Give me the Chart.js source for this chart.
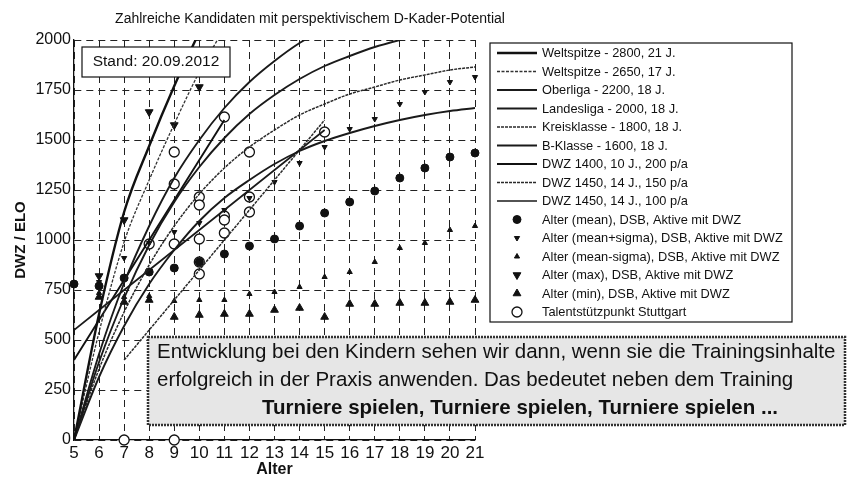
<!DOCTYPE html>
<html lang="de">
<head>
<meta charset="UTF-8">
<title>D-Kader-Potential</title>
<script src="https://cdn.jsdelivr.net/npm/chart.js"></script>
<style>
  html, body { margin: 0; padding: 0; background: #fff; }
</style>
</head>
<body>
<canvas id="dwzChart" width="848" height="479"></canvas>
<script>
// ages on the x axis
const ages = [5, 6, 7, 8, 9, 10, 11, 12, 13, 14, 15, 16, 17, 18, 19, 20, 21];

// model curves, one value per age (null = not drawn)
const weltspitze2800 = [0, 630, 1140, 1470, 1770, 2040, null, null, null, null, null, null, null, null, null, null, null];
const weltspitze2650 = [0, 540, 990, 1300, 1580, 1840, 2060, null, null, null, null, null, null, null, null, null, null];
const oberliga      = [0, 430, 785, 1070, 1310, 1500, 1660, 1790, 1895, 1985, 2055, null, null, null, null, null, null];
const landesliga    = [0, 390, 710, 975, 1190, 1365, 1510, 1630, 1725, 1805, 1870, 1920, 1965, 2000, 2030, 2050, 2070];
const kreisklasse   = [0, 355, 640, 875, 1070, 1230, 1360, 1465, 1550, 1625, 1680, 1730, 1765, 1800, 1825, 1850, 1865];
const bKlasse       = [0, 315, 570, 780, 950, 1095, 1210, 1300, 1380, 1445, 1495, 1535, 1570, 1600, 1625, 1645, 1660];
const dwz1400_200   = [400, 600, 800, 1000, 1200, 1400, 1600, null, null, null, null, null, null, null, null, null, null];
const dwz1450_150   = [null, null, 400, 550, 700, 850, 1000, 1150, 1300, 1450, 1600, null, null, null, null, null, null];
const dwz1450_100   = [550, 650, 750, 850, 950, 1050, 1150, 1250, 1350, 1450, 1550, null, null, null, null, null, null];

// DSB statistics, active players with DWZ
const meanDwz      = [780, 770, 810, 840, 860, 890, 930, 970, 1005, 1070, 1135, 1190, 1245, 1310, 1360, 1415, 1435];
const meanPlusSig  = [null, 790, 910, 985, 1040, 1085, 1150, 1210, 1290, 1385, 1465, 1555, 1605, 1680, 1740, 1790, 1815];
const meanMinusSig = [null, 735, 715, 720, 695, 700, 700, 730, 740, 765, 815, 840, 890, 960, 985, 1050, 1070];
const maxDwz       = [null, 820, 1100, 1640, 1575, 1765, null, null, null, null, null, null, null, null, null, null, null];
const minDwz       = [null, 715, 690, 700, 615, 625, 630, 630, 650, 660, 615, 680, 680, 685, 685, 690, 700];

// Talentstuetzpunkt Stuttgart (single players)
const talentAge = [7, 9, 8, 9, 9, 9, 10, 10, 10, 10, 10, 11, 11, 11, 11, 12, 12, 12, 15];
const talentDwz = [0, 0, 980, 1440, 1280, 980, 1215, 1175, 1005, 890, 830, 1615, 1120, 1100, 1035, 1440, 1215, 1140, 1540];

const FONT = '"Liberation Sans", Arial, Helvetica, sans-serif';

const pts = ys => ages.map((a, i) => ({ x: a, y: ys[i] })).filter(p => p.y !== null);

function curve(label, ys, width, dash, color, smooth) {
  return {
    type: 'line', label, data: pts(ys),
    borderColor: color, borderWidth: width, borderDash: dash,
    pointRadius: 0, fill: false,
    cubicInterpolationMode: smooth ? 'monotone' : 'default', tension: 0
  };
}
function marks(label, data, style, radius, rotation, fillColor, lw) {
  return {
    type: 'scatter', label, data,
    pointStyle: style, pointRadius: radius, pointRotation: rotation,
    backgroundColor: fillColor, borderColor: '#111', borderWidth: lw,
    clip: false
  };
}

const datasets = [
  curve('Weltspitze - 2800, 21 J.', weltspitze2800, 2.4, [], '#111', true),
  curve('Weltspitze - 2650, 17 J.', weltspitze2650, 1.3, [3, 1.5], '#333', true),
  curve('Oberliga - 2200, 18 J.', oberliga, 1.9, [], '#1a1a1a', true),
  curve('Landesliga - 2000, 18 J.', landesliga, 1.9, [], '#1a1a1a', true),
  curve('Kreisklasse - 1800, 18 J.', kreisklasse, 1.5, [3, 1], '#2a2a2a', true),
  curve('B-Klasse - 1600, 18 J.', bKlasse, 1.9, [], '#1a1a1a', true),
  curve('DWZ 1400, 10 J., 200 p/a', dwz1400_200, 1.9, [], '#111', false),
  curve('DWZ 1450, 14 J., 150 p/a', dwz1450_150, 1.5, [3, 1], '#2a2a2a', false),
  curve('DWZ 1450, 14 J., 100 p/a', dwz1450_100, 1.7, [], '#1a1a1a', false),
  marks('Alter (mean), DSB, Aktive mit DWZ', pts(meanDwz), 'circle', 4, 0, '#111', 1),
  marks('Alter (mean+sigma), DSB, Aktive mit DWZ', pts(meanPlusSig), 'triangle', 3, 180, '#111', 1),
  marks('Alter (mean-sigma), DSB, Aktive mit DWZ', pts(meanMinusSig), 'triangle', 3, 0, '#111', 1),
  marks('Alter (max), DSB, Aktive mit DWZ', pts(maxDwz), 'triangle', 4.5, 180, '#111', 1),
  marks('Alter (min), DSB, Aktive mit DWZ', pts(minDwz), 'triangle', 4.5, 0, '#111', 1),
  marks('Talentstützpunkt Stuttgart', talentAge.map((a, i) => ({ x: a, y: talentDwz[i] })), 'circle', 5, 0, '#fff', 1.3)
];

function drawMarker(ctx, ds, x, y) {
  const r = ds.pointRadius;
  ctx.beginPath();
  if (ds.pointStyle === 'circle') {
    ctx.arc(x, y, r, 0, Math.PI * 2);
  } else {
    let a = ds.pointRotation * Math.PI / 180;
    for (let k = 0; k < 3; k++) {
      const px = x + Math.sin(a) * r, py = y - Math.cos(a) * r;
      if (k) ctx.lineTo(px, py); else ctx.moveTo(px, py);
      a += 2 * Math.PI / 3;
    }
    ctx.closePath();
  }
  ctx.fillStyle = ds.backgroundColor;
  ctx.fill();
  ctx.lineWidth = ds.borderWidth;
  ctx.strokeStyle = ds.borderColor;
  ctx.stroke();
}

// title, stand box, legend box and comment box
const extras = {
  id: 'extras',
  afterDatasetsDraw(chart) {
    const ctx = chart.ctx;
    ctx.save();
    ctx.fillStyle = '#fff';
    ctx.fillRect(82, 47, 148, 30);
    ctx.strokeStyle = '#111';
    ctx.lineWidth = 1.2;
    ctx.strokeRect(82, 47, 148, 30);
    ctx.fillStyle = '#111';
    ctx.font = '15.5px ' + FONT;
    ctx.textAlign = 'center';
    ctx.textBaseline = 'middle';
    ctx.fillText('Stand: 20.09.2012', 156, 62);
    ctx.restore();
  },
  afterDraw(chart) {
    const ctx = chart.ctx;
    ctx.save();
    // title
    ctx.fillStyle = '#111';
    ctx.font = '14px ' + FONT;
    ctx.textAlign = 'center';
    ctx.textBaseline = 'middle';
    ctx.fillText('Zahlreiche Kandidaten mit perspektivischem D-Kader-Potential', 310, 19);

    // legend
    ctx.fillStyle = '#fff';
    ctx.fillRect(490, 43, 302, 279);
    ctx.strokeStyle = '#111';
    ctx.lineWidth = 1.2;
    ctx.strokeRect(490, 43, 302, 279);
    ctx.font = '12.8px ' + FONT;
    ctx.textAlign = 'left';
    chart.data.datasets.forEach((ds, i) => {
      const y = 53 + i * 18.5;
      if (ds.type === 'line') {
        ctx.strokeStyle = ds.borderColor;
        ctx.lineWidth = ds.borderWidth;
        ctx.setLineDash(ds.borderDash);
        ctx.beginPath();
        ctx.moveTo(497, y);
        ctx.lineTo(537, y);
        ctx.stroke();
        ctx.setLineDash([]);
      } else {
        drawMarker(ctx, ds, 517, y);
      }
      ctx.fillStyle = '#111';
      ctx.fillText(ds.label, 542, y + 0.5);
    });

    // comment box
    ctx.fillStyle = '#e6e6e6';
    ctx.fillRect(148, 337, 697, 88);
    ctx.strokeStyle = '#333';
    ctx.lineWidth = 2.5;
    ctx.setLineDash([2, 1]);
    ctx.strokeRect(148, 337, 697, 88);
    ctx.setLineDash([]);
    ctx.fillStyle = '#111';
    ctx.font = '20.5px ' + FONT;
    ctx.fillText('Entwicklung bei den Kindern sehen wir dann, wenn sie die Trainingsinhalte', 157, 352);
    ctx.fillText('erfolgreich in der Praxis anwenden. Das bedeutet neben dem Training', 157, 380);
    ctx.font = 'bold 20.5px ' + FONT;
    ctx.fillText('Turniere spielen, Turniere spielen, Turniere spielen ...', 262, 408);
    ctx.restore();
  }
};

new Chart(document.getElementById('dwzChart'), {
  type: 'scatter',
  data: { datasets },
  options: {
    responsive: false,
    animation: false,
    layout: { padding: { top: 40, right: 373, left: 0, bottom: 0 } },
    plugins: { legend: { display: false }, tooltip: { enabled: false } },
    scales: {
      x: {
        type: 'linear', min: 5, max: 21,
        afterFit(s) { s.height = 39; },
        ticks: { stepSize: 1, autoSkip: false, maxRotation: 0, padding: 3, color: '#111', font: { size: 17, family: FONT } },
        grid: { color: '#222', lineWidth: 1, drawTicks: false },
        border: { display: true, color: '#111', width: 1.3, dash: [7, 5] },
        title: { display: true, text: 'Alter', color: '#111', font: { size: 16, weight: 'bold', family: FONT }, padding: { top: 0, bottom: 0 } }
      },
      y: {
        min: 0, max: 2000,
        afterFit(s) { s.width = 74; },
        ticks: { stepSize: 250, padding: 3, color: '#111', font: { size: 16, family: FONT }, callback: v => String(v) },
        grid: { color: '#222', lineWidth: 1, drawTicks: false },
        border: { display: true, color: '#111', width: 1.3, dash: [7, 5] },
        title: { display: true, text: 'DWZ / ELO', color: '#111', font: { size: 15, weight: 'bold', family: FONT }, padding: { top: 12, bottom: 0 } }
      }
    }
  },
  plugins: [extras]
});
</script>
</body>
</html>
